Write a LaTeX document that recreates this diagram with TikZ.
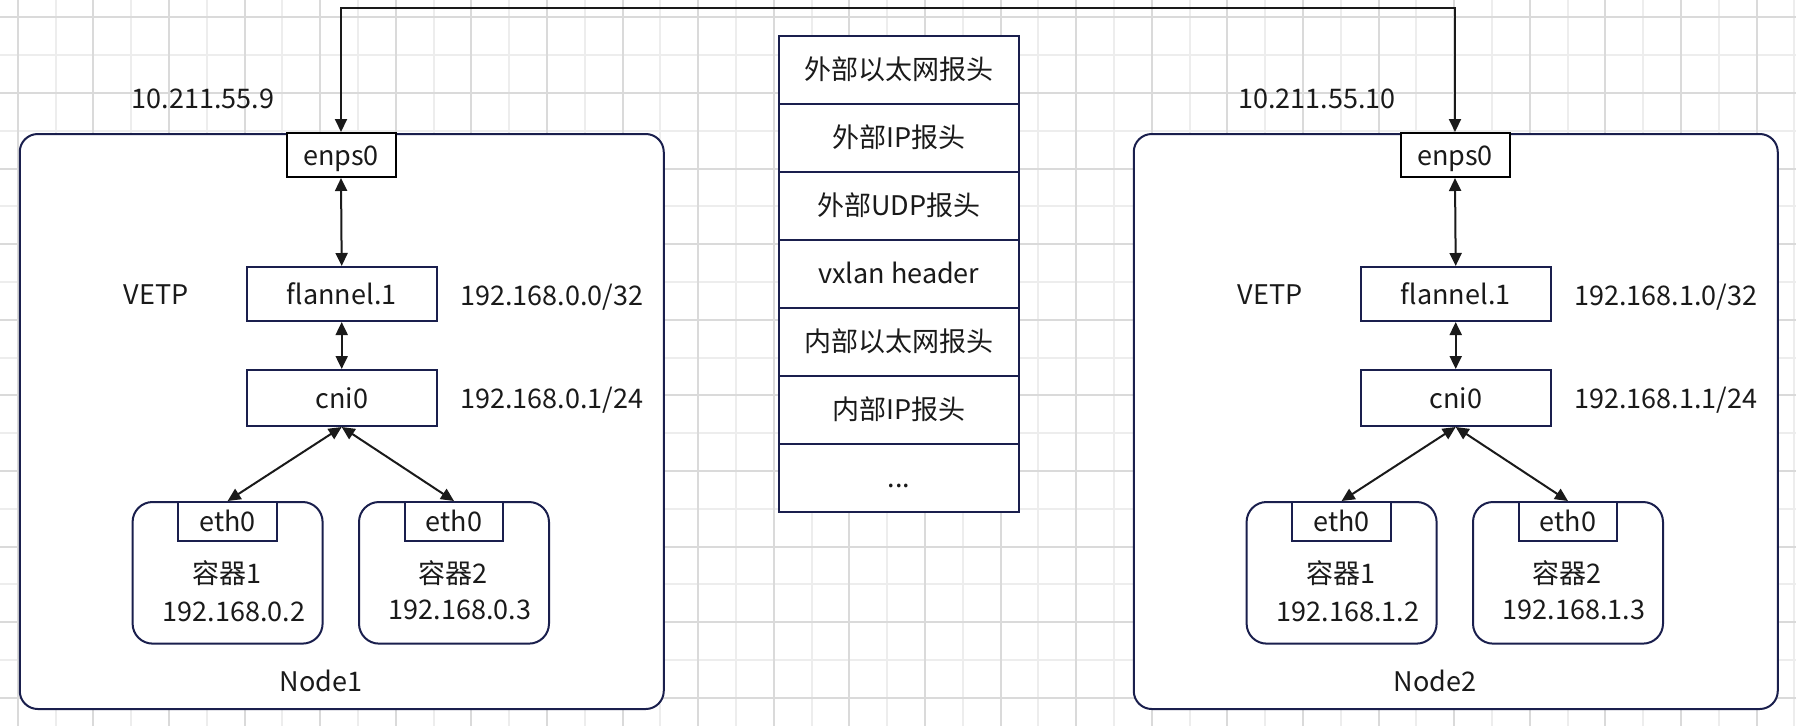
\documentclass[tikz,border=0pt]{standalone}
\usepackage{fontspec}
\setmainfont{Noto Sans CJK SC}
\usetikzlibrary{arrows.meta}
\definecolor{navy}{HTML}{1A1F4D}
\definecolor{gridd}{HTML}{DADADA}
\definecolor{gridl}{HTML}{EDEDED}
\definecolor{ink}{HTML}{1A1A1A}
\tikzset{
 lbl/.style={font=\fontsize{27}{31}\selectfont, text=ink, inner sep=0pt, text height=20pt, text depth=0pt},
 nbox/.style={draw=navy, line width=2pt, fill=white, rounded corners=18pt, inner sep=0pt},
 ibox/.style={draw=navy, line width=2pt, fill=white, lbl},
 conn/.style={draw=ink, line width=2pt, >={Triangle[length=13pt,width=12pt]}},
 gridline/.style={line width=2pt}
}
\newcommand\drawmachine[8]{%
\begin{scope}[xshift=#2]
 \node[nbox, minimum width=644pt, minimum height=575pt, anchor=north west] (#1box) at (18.75,133) {};
 \node[lbl] (#1ip) at (202.8,98.8) {#3};
 \node[ibox, draw=black, minimum width=109pt, minimum height=44pt] (#1e) at (341,155) {enps0};
 \node[ibox, minimum width=190pt, minimum height=54pt] (#1f) at (341.7,294) {flannel.1};
 \node[ibox, minimum width=190pt, minimum height=56pt] (#1c) at (341.7,398) {cni0};
 \node[lbl] (#1vetp) at (156,294) {VETP};
 \node[lbl, anchor=west] (#1fip) at (460,295) {#4};
 \node[lbl, anchor=west] (#1cip) at (460,398) {#5};
 \node[nbox, rounded corners=20pt, minimum width=190pt, minimum height=141.6pt] (#1k1) at (227.6,572.8) {};
 \node[nbox, rounded corners=20pt, minimum width=190pt, minimum height=141.6pt] (#1k2) at (454,572.8) {};
 \node[ibox, minimum width=98.4pt, minimum height=39pt, anchor=north] (#1t1) at (#1k1.north) {eth0};
 \node[ibox, minimum width=98.4pt, minimum height=39pt, anchor=north] (#1t2) at (#1k2.north) {eth0};
 \node[lbl] (#1n1) at (227,573) {容器1};
 \node[lbl] (#1a1) at (234,611) {#6};
 \node[lbl] (#1n2) at (453,573) {容器2};
 \node[lbl] (#1a2) at (460,609) {#7};
 \node[lbl] (#1name) at (321,681) {#8};
 \draw[conn,<->] (#1e.south) -- (#1f.north);
 \draw[conn,<->] (#1f.south) -- (#1c.north);
 \draw[conn,<->] (#1c.south) -- (#1k1.north);
 \draw[conn,<->] (#1c.south) -- (#1k2.north);
\end{scope}}
\begin{document}
\begin{tikzpicture}[x=1pt,y=-1pt]
\fill[white] (0,0) rectangle (1796,726);
\useasboundingbox (0,0) rectangle (1796,726);
% grid
\foreach \k in {0,1,...,23} \draw[gridl, gridline] ({55.5+75.6*\k},0) -- ({55.5+75.6*\k},726);
\foreach \k in {0,1,...,8} \draw[gridl, gridline] (0,{55.1+75.6*\k}) -- (1796,{55.1+75.6*\k});
\foreach \k in {0,1,...,23} \draw[gridd, gridline] ({17.7+75.6*\k},0) -- ({17.7+75.6*\k},726);
\foreach \k in {0,1,...,9} \draw[gridd, gridline] (0,{17.3+75.6*\k}) -- (1796,{17.3+75.6*\k});
% machines
\drawmachine{a}{0pt}{10.211.55.9}{192.168.0.0/32}{192.168.0.1/24}{192.168.0.2}{192.168.0.3}{Node1}
\drawmachine{b}{1114pt}{10.211.55.10}{192.168.1.0/32}{192.168.1.1/24}{192.168.1.2}{192.168.1.3}{Node2}
% packet stack
\node[ibox, minimum width=239.5pt, minimum height=68pt, anchor=north] (s0) at (898.75,34.5) {外部以太网报头};
\node[ibox, minimum width=239.5pt, minimum height=68pt, anchor=north] (s1) at (898.75,102.5) {外部IP报头};
\node[ibox, minimum width=239.5pt, minimum height=68pt, anchor=north] (s2) at (898.75,170.5) {外部UDP报头};
\node[ibox, minimum width=239.5pt, minimum height=68pt, anchor=north] (s3) at (898.75,238.5) {vxlan header};
\node[ibox, minimum width=239.5pt, minimum height=68pt, anchor=north] (s4) at (898.75,306.5) {内部以太网报头};
\node[ibox, minimum width=239.5pt, minimum height=68pt, anchor=north] (s5) at (898.75,374.5) {内部IP报头};
\node[ibox, minimum width=239.5pt, minimum height=68pt, anchor=north] (s6) at (898.75,442.5) {.{}.{}.};
% link between hosts
\coordinate (top) at (900,8.3);
\draw[conn,<->] (ae.north) |- (top) -| (be.north);
\end{tikzpicture}
\end{document}
